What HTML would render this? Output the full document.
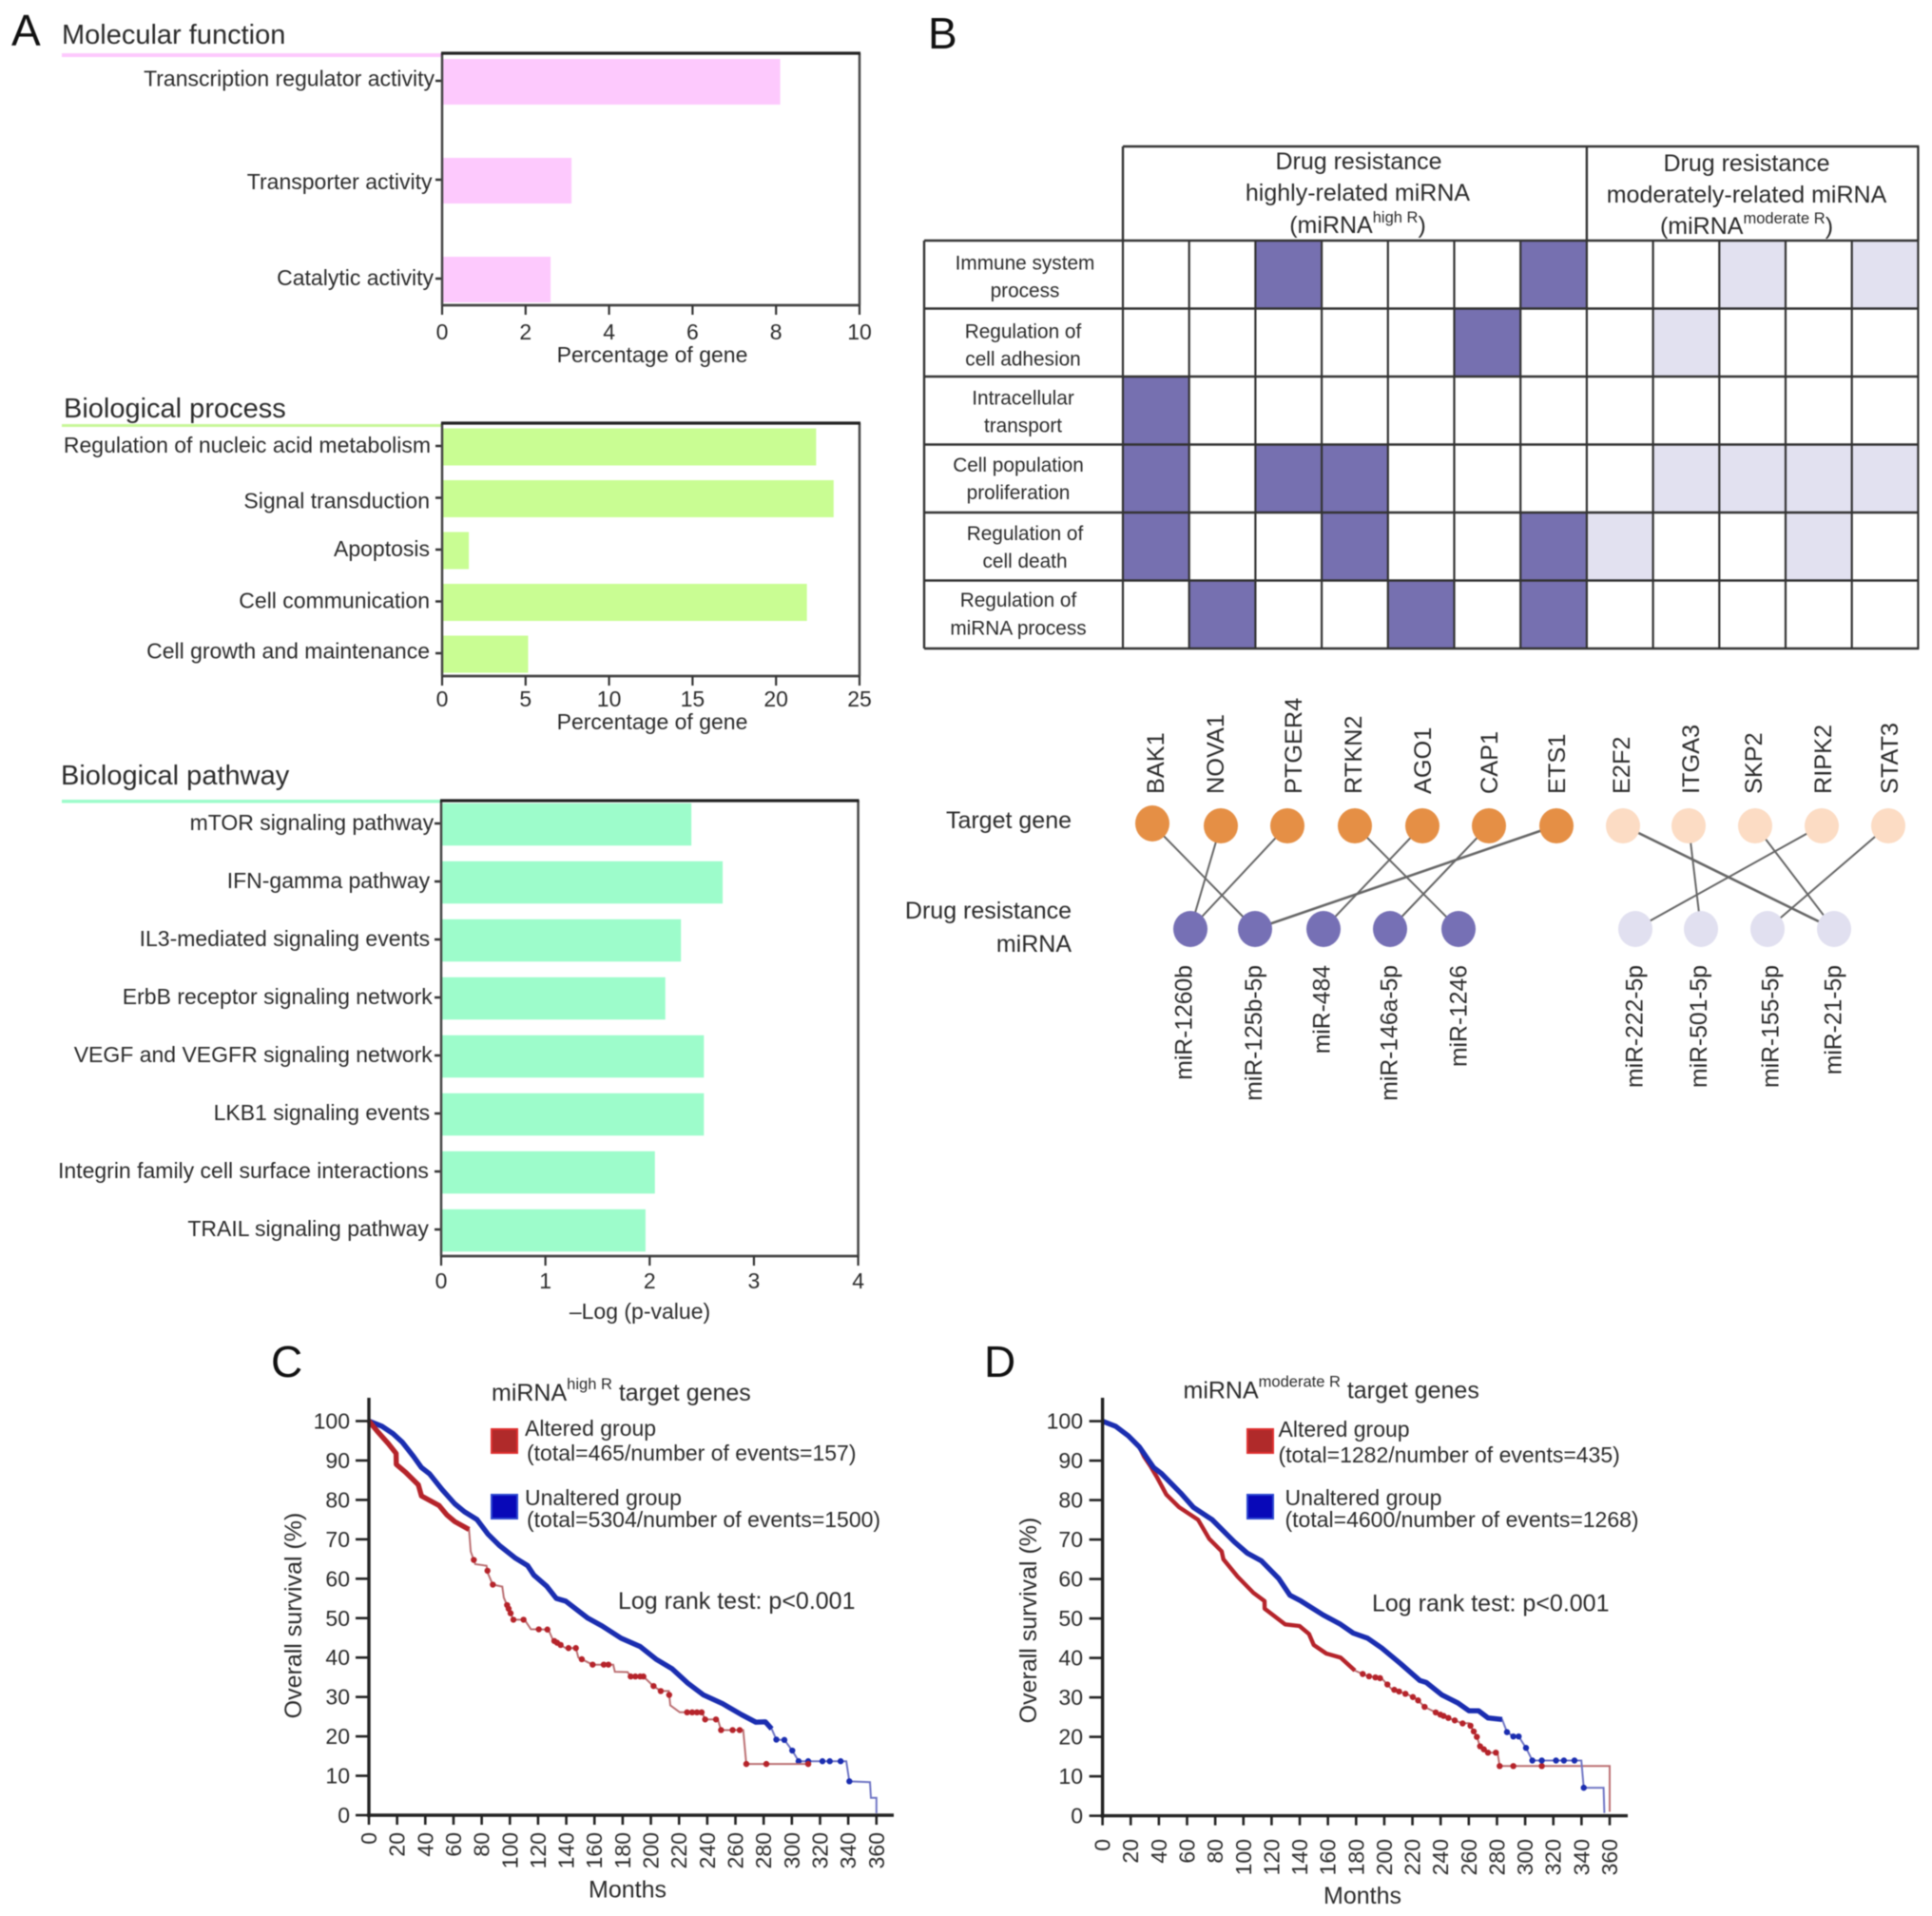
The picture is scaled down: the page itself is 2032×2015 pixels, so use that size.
<!DOCTYPE html>
<html lang="en">
<head>
<meta charset="utf-8">
<title>miRNA drug resistance figure</title>
<style>
html,body{margin:0;padding:0;background:#fff;}
#figure{display:block;width:2032px;height:2015px;filter:blur(0.6px);}
text{font-family:"Liberation Sans",sans-serif;fill:#2b2b2b;}
.c{dominant-baseline:central;}
.l{font-size:23px;}
.t{font-size:29px;}
.p{font-size:46px;fill:#111;}
.h{font-size:25px;text-anchor:middle;}
.r{font-size:20.8px;text-anchor:middle;dominant-baseline:central;}
.g{font-size:25.3px;dominant-baseline:central;text-anchor:start;}
.m{font-size:24.7px;dominant-baseline:central;text-anchor:end;}
.s{font-size:25px;}
.lg{font-size:23px;}
.edge{stroke:#666;stroke-width:2;}
</style>
</head>
<body>
<svg id="figure" xmlns="http://www.w3.org/2000/svg" width="2032" height="2015" viewBox="0 0 2032 2015">
  <rect x="0" y="0" width="2032" height="2015" fill="#fff"/>

  <text class="p" x="12" y="48">A</text>
  <text class="p" x="976" y="51">B</text>
  <text class="p" x="285" y="1448">C</text>
  <text class="p" x="1035" y="1448">D</text>

  <text class="t" x="65" y="46">Molecular function</text>
  <rect x="65" y="56" width="400" height="4" fill="#fdc9fd"/>
  <g id="chartA1"></g>

  <text class="t" x="67" y="439">Biological process</text>
  <rect x="65" y="446" width="400" height="3" fill="#c8f79a"/>
  <g id="chartA2"></g>

  <text class="t" x="64" y="825">Biological pathway</text>
  <rect x="65" y="841" width="399" height="3.5" fill="#9dfccb"/>
  <g id="chartA3"></g>

  <g id="matrix"></g>
  <g>
    <text class="h c" x="1429" y="170">Drug resistance</text>
    <text class="h c" x="1428" y="203">highly-related miRNA</text>
    <text class="h" x="1428" y="245">(miRNA<tspan font-size="16.5" dy="-11">high R</tspan><tspan dy="11">)</tspan></text>
    <text class="h c" x="1837" y="172">Drug resistance</text>
    <text class="h c" x="1837" y="205">moderately-related miRNA</text>
    <text class="h" x="1837" y="246">(miRNA<tspan font-size="16.5" dy="-11">moderate R</tspan><tspan dy="11">)</tspan></text>
  </g>
  <g>
    <text class="r" x="1078" y="277">Immune system</text>
    <text class="r" x="1078" y="306">process</text>
    <text class="r" x="1076" y="349">Regulation of</text>
    <text class="r" x="1076" y="378">cell adhesion</text>
    <text class="r" x="1076" y="419">Intracellular</text>
    <text class="r" x="1076" y="448">transport</text>
    <text class="r" x="1071" y="489.5">Cell population</text>
    <text class="r" x="1071" y="518.5">proliferation</text>
    <text class="r" x="1078" y="561.5">Regulation of</text>
    <text class="r" x="1078" y="590.5">cell death</text>
    <text class="r" x="1071" y="631.5">Regulation of</text>
    <text class="r" x="1071" y="661">miRNA process</text>
  </g>

  <g>
    <text class="s c" x="1127" y="863" text-anchor="end">Target gene</text>
    <text class="s c" x="1127" y="958" text-anchor="end">Drug resistance</text>
    <text class="s c" x="1127" y="993" text-anchor="end">miRNA</text>

    <line class="edge" x1="1212" y1="867" x2="1320" y2="977"/>
    <line class="edge" x1="1284" y1="868" x2="1252" y2="977"/>
    <line class="edge" x1="1354" y1="868" x2="1252" y2="977"/>
    <line class="edge" x1="1425" y1="868" x2="1534" y2="977"/>
    <line class="edge" x1="1496" y1="868" x2="1392" y2="977"/>
    <line class="edge" x1="1566" y1="868" x2="1462" y2="977"/>
    <line class="edge" x1="1637" y1="868" x2="1320" y2="977" style="stroke-width:2.6"/>
    <line class="edge" x1="1707" y1="868" x2="1929" y2="977" style="stroke-width:2.6"/>
    <line class="edge" x1="1776" y1="868" x2="1789" y2="977"/>
    <line class="edge" x1="1846" y1="868" x2="1929" y2="977"/>
    <line class="edge" x1="1916" y1="868" x2="1720" y2="977"/>
    <line class="edge" x1="1986" y1="868" x2="1859" y2="977"/>

    <ellipse cx="1212" cy="866" rx="18" ry="19" fill="#e58f45"/>
    <ellipse cx="1284" cy="868.5" rx="18" ry="18.5" fill="#e58f45"/>
    <ellipse cx="1354" cy="868.5" rx="18" ry="18.5" fill="#e58f45"/>
    <ellipse cx="1425" cy="868.5" rx="18" ry="18.5" fill="#e58f45"/>
    <ellipse cx="1496" cy="868.5" rx="18" ry="18.5" fill="#e58f45"/>
    <ellipse cx="1566" cy="868.5" rx="18" ry="18.5" fill="#e58f45"/>
    <ellipse cx="1637" cy="868.5" rx="18" ry="18.5" fill="#e58f45"/>
    <ellipse cx="1707" cy="868.5" rx="18" ry="18.5" fill="#fcdcc4"/>
    <ellipse cx="1776" cy="868.5" rx="18" ry="18.5" fill="#fcdcc4"/>
    <ellipse cx="1846" cy="868.5" rx="18" ry="18.5" fill="#fcdcc4"/>
    <ellipse cx="1916" cy="868.5" rx="18" ry="18.5" fill="#fcdcc4"/>
    <ellipse cx="1986" cy="868.5" rx="18" ry="18.5" fill="#fcdcc4"/>

    <ellipse cx="1252" cy="977" rx="18" ry="19" fill="#7670b5"/>
    <ellipse cx="1320" cy="977" rx="18" ry="19" fill="#7670b5"/>
    <ellipse cx="1392" cy="977" rx="18" ry="19" fill="#7670b5"/>
    <ellipse cx="1462" cy="977" rx="18" ry="19" fill="#7670b5"/>
    <ellipse cx="1534" cy="977" rx="18" ry="19" fill="#7670b5"/>
    <ellipse cx="1720" cy="977" rx="18" ry="19" fill="#e1e0f0"/>
    <ellipse cx="1789" cy="977" rx="18" ry="19" fill="#e1e0f0"/>
    <ellipse cx="1859" cy="977" rx="18" ry="19" fill="#e1e0f0"/>
    <ellipse cx="1929" cy="977" rx="18" ry="19" fill="#e1e0f0"/>

    <text class="g" transform="translate(1216,835) rotate(-90)">BAK1</text>
    <text class="g" transform="translate(1279,835) rotate(-90)">NOVA1</text>
    <text class="g" transform="translate(1361,835) rotate(-90)">PTGER4</text>
    <text class="g" transform="translate(1424,835) rotate(-90)">RTKN2</text>
    <text class="g" transform="translate(1497,835) rotate(-90)">AGO1</text>
    <text class="g" transform="translate(1567,835) rotate(-90)">CAP1</text>
    <text class="g" transform="translate(1638,835) rotate(-90)">ETS1</text>
    <text class="g" transform="translate(1706,835) rotate(-90)">E2F2</text>
    <text class="g" transform="translate(1779,835) rotate(-90)">ITGA3</text>
    <text class="g" transform="translate(1845,835) rotate(-90)">SKP2</text>
    <text class="g" transform="translate(1918,835) rotate(-90)">RIPK2</text>
    <text class="g" transform="translate(1988,835) rotate(-90)">STAT3</text>

    <text class="m" transform="translate(1246,1015) rotate(-90)">miR-1260b</text>
    <text class="m" transform="translate(1319.5,1015) rotate(-90)">miR-125b-5p</text>
    <text class="m" transform="translate(1391,1015) rotate(-90)">miR-484</text>
    <text class="m" transform="translate(1462,1015) rotate(-90)">miR-146a-5p</text>
    <text class="m" transform="translate(1535,1015) rotate(-90)">miR-1246</text>
    <text class="m" transform="translate(1720,1015) rotate(-90)">miR-222-5p</text>
    <text class="m" transform="translate(1787.5,1015) rotate(-90)">miR-501-5p</text>
    <text class="m" transform="translate(1863,1015) rotate(-90)">miR-155-5p</text>
    <text class="m" transform="translate(1929,1015) rotate(-90)">miR-21-5p</text>
  </g>

  <g id="chartC"></g>
  <g>
    <text class="s" x="517" y="1473">miRNA<tspan font-size="16.5" dy="-12">high R</tspan><tspan dy="12"> target genes</tspan></text>
    <rect x="517" y="1503" width="27" height="25" fill="#b02a2a" stroke="#e03030" stroke-width="2"/>
    <text class="lg c" x="552" y="1502">Altered group</text>
    <text class="lg c" x="554" y="1528">(total=465/number of events=157)</text>
    <rect x="517" y="1572" width="27" height="25" fill="#0808b8" stroke="#2a45d0" stroke-width="2"/>
    <text class="lg c" x="552" y="1575">Unaltered group</text>
    <text class="lg c" x="554" y="1598">(total=5304/number of events=1500)</text>
    <text class="s c" x="650" y="1684">Log rank test: p&lt;0.001</text>
  </g>

  <g id="chartD"></g>
  <g>
    <text class="s" x="1244.5" y="1470.5">miRNA<tspan font-size="16.5" dy="-12">moderate R</tspan><tspan dy="12"> target genes</tspan></text>
    <rect x="1312" y="1503" width="27" height="25" fill="#b02a2a" stroke="#e03030" stroke-width="2"/>
    <text class="lg c" x="1344.5" y="1503">Altered group</text>
    <text class="lg c" x="1344.5" y="1530">(total=1282/number of events=435)</text>
    <rect x="1312" y="1572" width="27" height="25" fill="#0808b8" stroke="#2a45d0" stroke-width="2"/>
    <text class="lg c" x="1351.5" y="1575">Unaltered group</text>
    <text class="lg c" x="1351.5" y="1598">(total=4600/number of events=1268)</text>
    <text class="s c" x="1443" y="1686.5">Log rank test: p&lt;0.001</text>
  </g>
</svg>

<script>
/* ---------- Panel A data ---------- */
const molecularCategories = ["Transcription regulator activity", "Transporter activity", "Catalytic activity"];
const molecularValues = [8.1, 3.1, 2.6];
const molecularTicks = [0, 2, 4, 6, 8, 10];

const processCategories = ["Regulation of nucleic acid metabolism", "Signal transduction", "Apoptosis", "Cell communication", "Cell growth and maintenance"];
const processValues = [22.4, 23.45, 1.6, 21.85, 5.15];
const processTicks = [0, 5, 10, 15, 20, 25];

const pathwayCategories = ["mTOR signaling pathway", "IFN-gamma pathway", "IL3-mediated signaling events", "ErbB receptor signaling network", "VEGF and VEGFR signaling network", "LKB1 signaling events", "Integrin family cell surface interactions", "TRAIL signaling pathway"];
const pathwayValues = [2.40, 2.70, 2.30, 2.15, 2.52, 2.52, 2.05, 1.96];
const pathwayTicks = [0, 1, 2, 3, 4];

/* ---------- Panel B data: 0 none, 1 high-related, 2 moderately-related ---------- */
const matrixImmune        = [0,0,1,0,0,0,1,0,0,2,0,2];
const matrixAdhesion      = [0,0,0,0,0,1,0,0,2,0,0,0];
const matrixTransport     = [1,0,0,0,0,0,0,0,0,0,0,0];
const matrixProliferation = [1,0,1,1,0,0,0,0,2,2,2,2];
const matrixDeath         = [1,0,0,1,0,0,1,2,0,0,2,0];
const matrixMirna         = [0,1,0,0,1,0,1,0,0,0,0,0];

/* ---------- Panels C / D data ---------- */
const survivalYTicks = [0,10,20,30,40,50,60,70,80,90,100];
const survivalXTicks = [0,20,40,60,80,100,120,140,160,180,200,220,240,260,280,300,320,340,360];

const unalteredMonthsC = [0,9.2,17.1,23.8,31.7,37.3,43,51.9,60.9,67.7,76.7,84.5,92.4,103.6,112.6,117.1,126.1,132.9,139.6,155.3,165.4,178.9,192.4,203.7,214.9,226.2,237.4,250.9,264.4,274.5,281.2,285.7,289.1,294.7,300.3,304.8,338.6,340.8,355.4,356.1,360,360];
const unalteredSurvivalC = [100,98.7,96.8,94.6,91,88.2,86.6,82.6,79,77,75,71.3,68.5,65.3,63.3,60.9,58.1,55,54.3,50,48,44.9,42.8,39.6,37.2,33.5,30.5,28.3,25.5,23.6,23.7,21.9,19.1,19.1,16.4,13.7,13.7,8.6,8.4,4.4,4.4,0.5];
const unalteredCensorC = [289,294.7,300.3,304.8,311.6,321.7,326.9,334.6,340.8];

const alteredMonthsC = [0,5.8,13.7,19.3,19.4,26.1,35.1,37.3,49.7,55.3,60.9,71,72.2,75.5,83.4,84.5,87.9,94.6,95.7,99.1,102.5,110.4,114.9,127.3,130.6,139.6,146.8,148.6,158.7,173.3,174.5,183.5,185.7,194.7,201.4,207,212.7,213.8,220.5,236.3,238.5,247.5,249.8,265.5,267.7,311.6];
const alteredSurvivalC = [100,97.5,94.3,91.8,89,87,83.8,81,78.6,76.2,74.5,72.5,66.9,63.7,63.3,61.3,58.5,58,55.2,52.4,49.6,49.6,47.2,47.1,44.4,42.4,42.4,40,38.2,38.2,36.4,36.3,35.2,35.2,32.9,31.5,31.5,27.9,26.1,26.1,24.3,24.3,21.6,21.6,13,13];
const alteredCensorC = [74.4,84.1,87.9,98,99.1,100.5,102.5,109.7,120.5,126.6,131.5,133.5,136,141.6,146.8,151,158.7,166.6,169.9,185.7,189,192.4,194.7,201.9,207,213,225.7,229.3,232.7,236,238.5,246.2,249.8,258,263,267.7,281.9,311.6];

const unalteredMonthsD = [0,9.3,18.3,26.1,36.2,41.9,55.4,64.4,77.9,93.6,102.6,112.8,125.1,133,140.9,156.6,169,178,188.1,198.2,211.7,225.2,229.7,241,252.2,260.1,266.9,273.6,283.7,287.1,291.6,295.4,300.6,305.1,339.9,341.6,355.7,356.2];
const unalteredSurvivalD = [100,98.7,96.3,93.5,88.3,86.7,81.8,78.2,75,69.4,66.6,64.6,60.1,55.9,54.4,50.9,48.5,46.3,45,42.5,38.5,34.3,33.8,30.6,28.6,26.6,26.6,24.8,24.4,21.2,20.1,20.1,17.2,14,14,7.1,7.1,0.7];
const unalteredCensorD = [287.1,291.6,295.4,300.6,305.1,311.8,321.9,327.5,335,341.6];

const alteredMonthsD = [0,9.3,18.3,26.1,29.5,34,38.5,45.3,54.3,67.8,75.7,84.6,85.8,95.9,107.1,115,115.1,129.6,139.8,146.5,149.9,158.9,169,179.1,188.1,198.2,205,217.4,223,228.6,238.7,245.5,255.6,260.1,265.7,268,273.6,280.4,281.9,360,360];
const alteredSurvivalD = [100,98.7,96.3,93.5,91,88.6,85.9,81.4,78.2,75,70.2,67,65,60.6,56.5,54.4,52.5,48.5,48.1,46.1,43.3,41.1,40.1,36.8,35.4,34.8,32.2,30.6,29.6,27.6,25.8,24.8,23.4,23.5,20,17.6,16,16,12.6,12.6,1];
const alteredCensorD = [184.7,189.2,193.7,197,202.2,207.1,210.5,215,220.3,224,228.6,236.5,239.8,242.1,245.5,250,255.6,261.2,263.5,265.7,268,270.7,273.6,279.2,281.9,291.6,311.8];

/* ---------- helpers ---------- */
const NS = "http://www.w3.org/2000/svg";
function make(tag, attrs, parent) {
  const node = document.createElementNS(NS, tag);
  for (const k in attrs) node.setAttribute(k, attrs[k]);
  parent.appendChild(node);
  return node;
}

/* ---------- horizontal bar panels ---------- */
function drawBarPanel(id, cats, vals, ticks, o) {
  const root = document.getElementById(id);
  const maxV = ticks[ticks.length - 1];
  const sx = v => o.left + (v / maxV) * (o.right - o.left);
  const step = (o.lastCenter - o.firstCenter) / (cats.length - 1);
  const sy = i => o.firstCenter + i * step;

  cats.forEach((cat, i) => {
    const bar = make("rect", {x: o.left + 1, y: sy(i) - o.barH / 2, width: sx(vals[i]) - o.left - 1, height: o.barH, fill: o.color}, root);
    
    

    const tk = make("line", {x1: o.left - 7, x2: o.left, y1: sy(i) - 1, y2: sy(i) - 1, stroke: "#333", "stroke-width": 2.5}, root);
    
    

    const shift = (o.nudge && o.nudge[cat]) || {dx: 0, dy: 0};
    const lb = make("text", {class: "l c", x: o.labelRight + shift.dx, y: sy(i) - 2 + shift.dy, "text-anchor": "end"}, root);
    lb.textContent = cat;
    
    
  });

  const leftSpine = make("line", {x1: o.left, x2: o.left, y1: o.top, y2: o.bottom, stroke: "#444", "stroke-width": 2.5}, root);
  
  
  const rightSpine = make("line", {x1: o.right, x2: o.right, y1: o.top, y2: o.bottom, stroke: "#444", "stroke-width": 2.5}, root);
  
  
  const topSpine = make("line", {x1: o.left - 1, x2: o.right + 1, y1: o.top, y2: o.top, stroke: "#222", "stroke-width": 3.2}, root);
  
  
  const bottomSpine = make("line", {x1: o.left - 1, x2: o.right + 1, y1: o.bottom, y2: o.bottom, stroke: "#444", "stroke-width": 2.8}, root);
  
  

  ticks.forEach(t => {
    const tk = make("line", {x1: sx(t), x2: sx(t), y1: o.bottom, y2: o.bottom + 10, stroke: "#333", "stroke-width": 2.2}, root);
    
    
    const lb = make("text", {class: "l c", x: sx(t), y: o.tickLabelY, "text-anchor": "middle"}, root);
    lb.textContent = t;
    
    
  });

  const title = make("text", {class: "l c", x: o.titleX, y: o.titleY, "text-anchor": "middle"}, root);
  title.textContent = o.title;
  
  
}

drawBarPanel("chartA1", molecularCategories, molecularValues, molecularTicks, {
  left: 465, right: 904, top: 56, bottom: 321, firstCenter: 86, lastCenter: 294, barH: 48,
  color: "#fdc9fd", labelRight: 456, tickLabelY: 349, titleX: 686, titleY: 373, title: "Percentage of gene",
  nudge: {"Transcription regulator activity": {dx: 1, dy: -1.5}, "Transporter activity": {dx: -1.5, dy: 3}}
});
drawBarPanel("chartA2", processCategories, processValues, processTicks, {
  left: 465, right: 904, top: 445, bottom: 711, firstCenter: 470, lastCenter: 688, barH: 39,
  color: "#c9fd93", labelRight: 452, tickLabelY: 735, titleX: 686, titleY: 759, title: "Percentage of gene",
  nudge: {"Regulation of nucleic acid metabolism": {dx: 1, dy: 0}, "Signal transduction": {dx: 0, dy: 4}, "Cell growth and maintenance": {dx: 0, dy: -1.5}}
});
drawBarPanel("chartA3", pathwayCategories, pathwayValues, pathwayTicks, {
  left: 464, right: 902.6, top: 842, bottom: 1321, firstCenter: 867, lastCenter: 1294, barH: 44.5,
  color: "#9dfccb", labelRight: 453.5, tickLabelY: 1347, titleX: 673, titleY: 1379, title: "\u2013Log (p-value)",
  nudge: {"mTOR signaling pathway": {dx: 2.6, dy: 0}, "IFN-gamma pathway": {dx: -1.3, dy: 0}, "IL3-mediated signaling events": {dx: -1.3, dy: 0}, "ErbB receptor signaling network": {dx: 1.3, dy: 0}, "VEGF and VEGFR signaling network": {dx: 1.3, dy: 0}, "LKB1 signaling events": {dx: -1.3, dy: 0}, "Integrin family cell surface interactions": {dx: -2.6, dy: 0}, "TRAIL signaling pathway": {dx: -2.6, dy: 0}}
});

/* ---------- matrix ---------- */
(function drawMatrix() {
  const root = document.getElementById("matrix");
  const rows = [matrixImmune, matrixAdhesion, matrixTransport, matrixProliferation, matrixDeath, matrixMirna];
  const cx = i => 1181 + i * 69.7;
  const cy = j => 253 + j * 71.5;
  const fills = ["#ffffff", "#7670b0", "#e2e1f0"];

  rows.forEach((row, j) => row.forEach((v, i) => {
    const cell = make("rect", {x: cx(i), y: cy(j), width: 69.7, height: 71.5, fill: fills[v]}, root);
    
    
  }));

  for (let j = 0; j <= rows.length; j++) {
    const ln = make("line", {x1: 972, x2: cx(12) + 1, y1: cy(j), y2: cy(j), stroke: "#333", "stroke-width": 2.4}, root);
    
    
  }
  for (let i = 0; i <= 12; i++) {
    const ln = make("line", {x1: cx(i), x2: cx(i), y1: cy(0), y2: cy(rows.length), stroke: "#333", "stroke-width": 2.2}, root);
    
    
  }
  const leftEdge = make("line", {x1: 972, x2: 972, y1: cy(0), y2: cy(rows.length), stroke: "#333", "stroke-width": 2.4}, root);
  
  
  const headerTop = make("line", {x1: cx(0), x2: cx(12) + 1, y1: 154, y2: 154, stroke: "#333", "stroke-width": 2.4}, root);
  
  
  [0, 7, 12].forEach(i => {
    const ln = make("line", {x1: cx(i), x2: cx(i), y1: 154, y2: cy(0), stroke: "#333", "stroke-width": 2.4}, root);
    
    
  });
})();

/* ---------- survival panels ---------- */
function drawSurvival(id, o, series) {
  const root = document.getElementById(id);
  const sx = m => o.x0 + (m / 360) * (o.x360 - o.x0);
  const sy = s => o.y0 + (s / 100) * (o.y100 - o.y0);
  const at = (ms, ss, m) => {
    for (let i = 1; i < ms.length; i++) {
      if (m <= ms[i]) {
        const span = ms[i] - ms[i - 1];
        const f = span > 0 ? (m - ms[i - 1]) / span : 1;
        return ss[i - 1] + f * (ss[i] - ss[i - 1]);
      }
    }
    return ss[ss.length - 1];
  };

  series.forEach(s => {
    const all = s.months.map((m, i) => sx(m).toFixed(1) + "," + sy(s.surv[i]).toFixed(1)).join(" ");
    const thin = make("polyline", {points: all, fill: "none", stroke: s.thin, "stroke-width": 2}, root);
    
    

    const dense = [];
    s.months.forEach((m, i) => { if (m <= s.denseEnd) dense.push(sx(m).toFixed(1) + "," + sy(s.surv[i]).toFixed(1)); });
    const thick = make("polyline", {points: dense.join(" "), fill: "none", stroke: s.dark, "stroke-width": s.denseW, "stroke-linejoin": "round"}, root);
    
    

    s.censor.forEach(m => {
      const dot = make("circle", {cx: sx(m), cy: sy(at(s.months, s.surv, m)), r: 3.2, fill: s.dark}, root);
      
      
    });
  });

  const yAxis = make("line", {x1: o.x0, x2: o.x0, y1: o.axisTop, y2: o.y0 + 2, stroke: "#222", "stroke-width": 3.4}, root);
  
  
  const xAxis = make("line", {x1: o.x0 - 2, x2: o.axisRight, y1: o.y0, y2: o.y0, stroke: "#222", "stroke-width": 3.4}, root);
  
  

  survivalYTicks.forEach(v => {
    const tk = make("line", {x1: o.x0 - o.yTickLen, x2: o.x0, y1: sy(v), y2: sy(v), stroke: "#222", "stroke-width": 2.6}, root);
    
    
    const lb = make("text", {class: "l c", x: o.yLabelRight, y: sy(v), "text-anchor": "end"}, root);
    lb.textContent = v;
    
    
  });
  survivalXTicks.forEach(v => {
    const tk = make("line", {x1: sx(v), x2: sx(v), y1: o.y0, y2: o.y0 + 10, stroke: "#222", "stroke-width": 2.6}, root);
    
    
    const lb = make("text", {class: "l c", "text-anchor": "end", transform: "translate(" + sx(v) + "," + o.xLabelTop + ") rotate(-90)"}, root);
    lb.textContent = v;
    
    
  });

  const xt = make("text", {class: "s c", x: o.xTitleX, y: o.xTitleY, "text-anchor": "middle"}, root);
  xt.textContent = "Months";
  
  
  const yt = make("text", {class: "s c", "text-anchor": "middle", transform: "translate(" + o.yTitleX + "," + o.yTitleY + ") rotate(-90)"}, root);
  yt.textContent = "Overall survival (%)";
  
  
}

drawSurvival("chartC", {
  x0: 388, x360: 921.8, y0: 1909, y100: 1494.5, axisTop: 1470, axisRight: 940, yTickLen: 14,
  yLabelRight: 368, xLabelTop: 1927, xTitleX: 660, xTitleY: 1987.5, yTitleX: 309, yTitleY: 1699
}, [
  {months: unalteredMonthsC, surv: unalteredSurvivalC, censor: unalteredCensorC, thin: "#6f75c4", dark: "#1a2db0", denseEnd: 286, denseW: 5.4},
  {months: alteredMonthsC, surv: alteredSurvivalC, censor: alteredCensorC, thin: "#bb6f72", dark: "#b5232a", denseEnd: 71, denseW: 5.4}
]);
drawSurvival("chartD", {
  x0: 1159.6, x360: 1693, y0: 1909.6, y100: 1494.6, axisTop: 1470, axisRight: 1712, yTickLen: 14,
  yLabelRight: 1139, xLabelTop: 1934, xTitleX: 1433, xTitleY: 1994, yTitleX: 1082, yTitleY: 1704
}, [
  {months: alteredMonthsD, surv: alteredSurvivalD, censor: alteredCensorD, thin: "#bb6f72", dark: "#b5232a", denseEnd: 180, denseW: 4.4},
  {months: unalteredMonthsD, surv: unalteredSurvivalD, censor: unalteredCensorD, thin: "#6f75c4", dark: "#1a2db0", denseEnd: 287, denseW: 5.4}
]);
</script>
</body>
</html>
